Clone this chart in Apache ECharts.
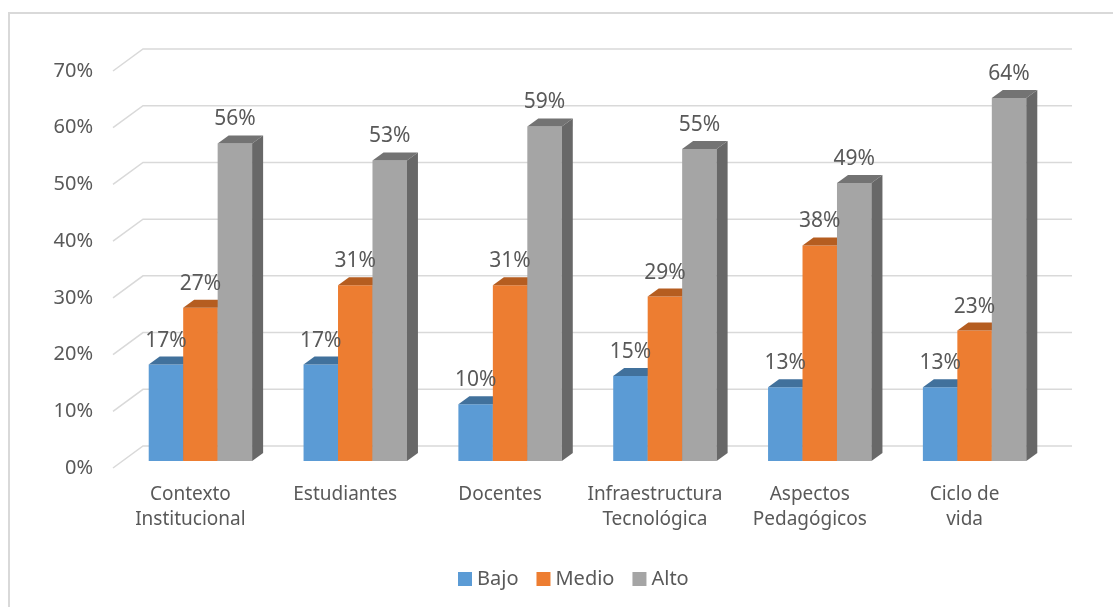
<!DOCTYPE html>
<html>
<head>
<meta charset="utf-8">
<script src="https://cdn.jsdelivr.net/npm/echarts@6/dist/echarts.min.js"></script>
<style>
  html, body { margin: 0; padding: 0; background: #fff; }
  #chart { width: 1113px; height: 607px; }
</style>
</head>
<body>
<div id="chart"></div>
<script>
  // datos
  var categories = ['Contexto\nInstitucional', 'Estudiantes', 'Docentes', 'Infraestructura\nTecnológica', 'Aspectos\nPedagógicos', 'Ciclo de\nvida'];
  var bajo = [17, 17, 10, 15, 13, 13];
  var medio = [27, 31, 31, 29, 38, 23];
  var alto = [56, 53, 59, 55, 49, 64];
  var yTicks = [0, 10, 20, 30, 40, 50, 60, 70];
  var seriesNames = ['Bajo', 'Medio', 'Alto'];

  var FONT = 'Noto Sans';
  var TXT = '#595959';
  // efecto 3d: profundidad de la barra y distancia a la pared del fondo / plano frontal
  var SIDE_X = 11, SIDE_Y = -8;
  var BACK_X = 20, BACK_Y = -15;
  var FRONT_X = -10, FRONT_Y = 7;
  var BAR_FRAC = 0.2226;

  var palette = [
    {front: '#5B9BD5', top: '#41719C', side: '#3E6D98'},
    {front: '#ED7D31', top: '#B55D20', side: '#A9561E'},
    {front: '#A5A5A5', top: '#737373', side: '#686868'}
  ];

  function toPairs(arr) {
    return arr.map(function (v, i) { return [i, v]; });
  }

  function barRender(idx) {
    var c = palette[idx];
    return function (params, api) {
      var cat = api.value(0), v = api.value(1);
      var base = api.coord([cat, 0]);
      var top = api.coord([cat, v]);
      var band = api.size([1, 0])[0];
      var bw = band * BAR_FRAC;
      var x0 = base[0] - 1.5 * bw + idx * bw, x1 = x0 + bw;
      var yb = base[1], yt = top[1];
      return {
        type: 'group',
        children: [
          {type: 'rect', shape: {x: x0, y: yt, width: bw, height: yb - yt}, style: {fill: c.front}},
          {type: 'polygon', shape: {points: [[x0, yt], [x1, yt], [x1 + SIDE_X, yt + SIDE_Y], [x0 + SIDE_X, yt + SIDE_Y]]}, style: {fill: c.top}},
          {type: 'polygon', shape: {points: [[x1, yt], [x1 + SIDE_X, yt + SIDE_Y], [x1 + SIDE_X, yb + SIDE_Y], [x1, yb]]}, style: {fill: c.side}}
        ]
      };
    };
  }

  function gridRender(params, api) {
    var cs = params.coordSys;
    var y = api.coord([0, api.value(1)])[1];
    return {
      type: 'polyline',
      shape: {points: [[cs.x + FRONT_X, y + FRONT_Y], [cs.x + BACK_X, y + BACK_Y], [cs.x + cs.width + BACK_X, y + BACK_Y]]},
      style: {stroke: '#D9D9D9', lineWidth: 1.5, fill: null}
    };
  }

  function labelRender(params, api) {
    var cat = api.value(0);
    var band = api.size([1, 0])[0];
    var bw = band * BAR_FRAC;
    var base = api.coord([cat, 0]);
    var kids = [];
    for (var k = 0; k < 3; k++) {
      var v = api.value(k + 1);
      var yt = api.coord([cat, v])[1];
      var cx = base[0] - 1.5 * bw + k * bw + bw / 2;
      kids.push({
        type: 'text',
        style: {text: v + '%', x: cx, y: yt - 24, align: 'center', verticalAlign: 'middle', font: '21px "' + FONT + '"', fill: TXT}
      });
    }
    return {type: 'group', children: kids};
  }

  var labelRows = categories.map(function (c, i) { return [i, bajo[i], medio[i], alto[i]]; });

  var chart = echarts.init(document.getElementById('chart'));
  var option = {
    backgroundColor: '#fff',
    animation: false,
    textStyle: {fontFamily: FONT},
    graphic: [{
      type: 'rect', shape: {x: 9, y: 13, width: 1200, height: 700},
      style: {fill: null, stroke: '#D9D9D9', lineWidth: 2}, silent: true
    }],
    legend: {
      data: seriesNames,
      left: 453,
      top: 564,
      icon: 'rect',
      itemWidth: 14,
      itemHeight: 14,
      itemGap: 18,
      textStyle: {fontSize: 20, color: TXT, fontFamily: FONT, lineHeight: 20}
    },
    grid: [
      {left: 123, right: 61, top: 64, bottom: 146},   // plano de las barras
      {left: 113, right: 71, top: 71, bottom: 139}    // plano frontal (etiquetas)
    ],
    xAxis: [
      {type: 'category', gridIndex: 0, data: categories, show: false},
      {
        type: 'category', gridIndex: 1, data: categories,
        axisLine: {show: false}, axisTick: {show: false},
        axisLabel: {interval: 0, margin: 14, fontSize: 19, lineHeight: 25, color: TXT, fontFamily: FONT}
      }
    ],
    yAxis: [
      {type: 'value', gridIndex: 0, min: 0, max: 70, interval: 10, show: false},
      {
        type: 'value', gridIndex: 1, min: 0, max: 70, interval: 10,
        axisLine: {show: false}, axisTick: {show: false}, splitLine: {show: false},
        axisLabel: {formatter: '{value}%', margin: 20, fontSize: 20, color: TXT, fontFamily: FONT}
      }
    ],
    series: [
      {type: 'custom', name: 'grid', z: 1, renderItem: gridRender, data: yTicks.map(function (v) { return [0, v]; }), silent: true},
      {type: 'custom', name: seriesNames[0], z: 2, renderItem: barRender(0), data: toPairs(bajo), itemStyle: {color: palette[0].front}, encode: {x: 0, y: 1}},
      {type: 'custom', name: seriesNames[1], z: 2, renderItem: barRender(1), data: toPairs(medio), itemStyle: {color: palette[1].front}, encode: {x: 0, y: 1}},
      {type: 'custom', name: seriesNames[2], z: 2, renderItem: barRender(2), data: toPairs(alto), itemStyle: {color: palette[2].front}, encode: {x: 0, y: 1}},
      {type: 'custom', name: 'labels', z: 3, renderItem: labelRender, data: labelRows, silent: true}
    ]
  };
  chart.setOption(option);
</script>
</body>
</html>
